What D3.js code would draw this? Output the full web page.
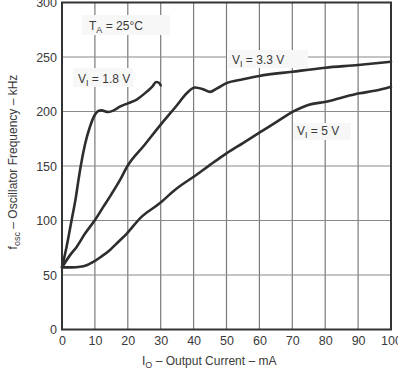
<!DOCTYPE html>
<html>
<head>
<meta charset="utf-8">
<script src="https://cdn.jsdelivr.net/npm/d3@7"></script>
<style>
  body { margin: 0; background: #fff; }
  svg text { font-family: "Liberation Sans", Arial, Helvetica, sans-serif; fill: #3a3a3a; }
</style>
</head>
<body>
<svg id="chart" width="398" height="370"></svg>
<script>
// ---- data ----
const xTicks = [0, 10, 20, 30, 40, 50, 60, 70, 80, 90, 100];
const yTicks = [0, 50, 100, 150, 200, 250, 300];

const v18_x = [0, 1.4, 2.9, 4.2, 5.0, 5.7, 7, 8.5, 10, 11, 12, 14, 16, 17.6, 20, 22.7, 25.7, 27.5, 28.6, 29.4, 30];
const v18_y = [57, 76, 100, 121, 137, 150, 170, 186, 197, 200.5, 201, 199.5, 201.5, 204.4, 207.5, 211, 218, 223, 227, 226.5, 224];

const v33_x = [0, 2.4, 4.5, 7, 9.8, 12.6, 15, 17.6, 19.9, 25, 30, 35, 37.9, 40.4, 42.9, 45, 47, 50, 55, 60, 70, 80, 90, 100];
const v33_y = [57, 68, 76, 88, 99.5, 112.7, 124, 137, 150, 169, 188, 206, 216.7, 222, 220.4, 218, 221, 226, 229.5, 232.6, 236.5, 240.2, 242.7, 245.7];

const v5_x = [0, 3, 5.5, 7.5, 9.5, 12, 14.6, 17, 19.7, 23.7, 29.8, 34.3, 40.9, 45, 50, 55, 60, 65, 70.2, 74.8, 80.3, 86, 90.5, 95, 100];
const v5_y = [57, 57, 57.5, 59, 62, 67, 73, 80, 88, 102, 116, 128, 142, 151, 161.6, 171, 180.6, 190, 199.8, 206, 209, 213.6, 216.7, 219, 222.8];

// ---- layout ----
const svg = d3.select("#chart");
const x = d3.scaleLinear().domain([0, 100]).range([62, 391]);
const y = d3.scaleLinear().domain([0, 300]).range([329.5, 2.5]);

// grid
const grid = svg.append("g");
grid.selectAll("line.v").data(xTicks.slice(1, -1)).enter().append("line")
  .attr("x1", d => x(d)).attr("x2", d => x(d))
  .attr("y1", y(0)).attr("y2", y(300))
  .attr("stroke", "#7a7a7a").attr("stroke-width", 1.2);
grid.selectAll("line.h").data(yTicks.slice(1, -1)).enter().append("line")
  .attr("x1", x(0)).attr("x2", x(100))
  .attr("y1", d => y(d)).attr("y2", d => y(d))
  .attr("stroke", "#8a8a8a").attr("stroke-width", 1.2);

// label boxes (hide grid behind the labels)
function labelBox(bx, by, bw, bh) {
  svg.append("rect").attr("x", bx).attr("y", by).attr("width", bw).attr("height", bh)
    .attr("fill", "#f7f7f7");
}
labelBox(82, 15, 88, 20);
labelBox(73, 68, 60, 19);
labelBox(227, 50, 81, 18);
labelBox(293, 123, 58, 17);

// curves
const line = d3.line().x(d => x(d[0])).y(d => y(d[1])).curve(d3.curveMonotoneX);
const series = [d3.zip(v18_x, v18_y), d3.zip(v33_x, v33_y), d3.zip(v5_x, v5_y)];
svg.append("g").selectAll("path").data(series).enter().append("path")
  .attr("d", line)
  .attr("fill", "none").attr("stroke", "#2e2e2e").attr("stroke-width", 2.6)
  .attr("stroke-linejoin", "round").attr("stroke-linecap", "round");

// frame
svg.append("rect").attr("x", x(0)).attr("y", y(300))
  .attr("width", x(100) - x(0)).attr("height", y(0) - y(300))
  .attr("fill", "none").attr("stroke", "#333").attr("stroke-width", 2);

// axes (labels only)
const fs = 12.5;
const xAxis = d3.axisBottom(x).tickValues(xTicks).tickSize(0).tickPadding(0).tickFormat(d3.format("d"));
const gx = svg.append("g").attr("transform", `translate(0,${y(0) + 15})`).call(xAxis);
gx.select(".domain").remove();
gx.selectAll("text").attr("font-size", fs).attr("dy", "0").style("fill", "#3a3a3a")
  .attr("font-family", "Liberation Sans, Arial, sans-serif");

const yAxis = d3.axisLeft(y).tickValues(yTicks).tickSize(0).tickPadding(0).tickFormat(d3.format("d"));
const gy = svg.append("g").attr("transform", `translate(${x(0) - 5},0)`).call(yAxis);
gy.select(".domain").remove();
gy.selectAll("text").attr("font-size", fs).attr("dy", "0.34em").style("fill", "#3a3a3a")
  .attr("font-family", "Liberation Sans, Arial, sans-serif");

// annotations
const lfs = 12;
function subLabel(tx, ty, main, sub, rest) {
  const t = svg.append("text").attr("x", tx).attr("y", ty).attr("font-size", lfs);
  t.append("tspan").text(main);
  t.append("tspan").attr("font-size", 9).attr("dy", 3).text(sub);
  t.append("tspan").attr("dy", -3).text(rest);
  return t;
}
subLabel(89, 30, "T", "A", " = 25°C");
subLabel(78, 83, "V", "I", " = 1.8 V");
subLabel(232, 64, "V", "I", " = 3.3 V");
subLabel(297, 135, "V", "I", " = 5 V");

// axis titles
const xt = svg.append("text").attr("x", 142).attr("y", 365).attr("font-size", lfs);
xt.append("tspan").text("I");
xt.append("tspan").attr("font-size", 9).attr("dy", 3).text("O");
xt.append("tspan").attr("dy", -3).text(" – Output Current – mA");

const yt = svg.append("text").attr("transform", "translate(17,162) rotate(-90)")
  .attr("font-size", lfs).attr("text-anchor", "middle");
yt.append("tspan").text("f");
yt.append("tspan").attr("font-size", 9).attr("dy", 3).text("osc");
yt.append("tspan").attr("dy", -3).text(" – Oscillator Frequency – kHz");
</script>
</body>
</html>
